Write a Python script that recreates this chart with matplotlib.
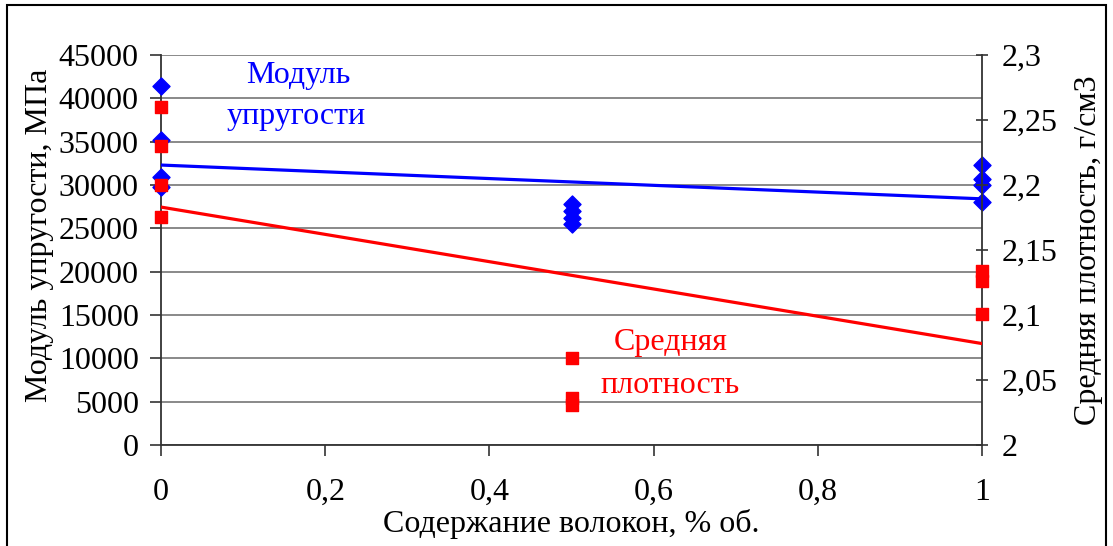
import matplotlib.pyplot as plt
from matplotlib.patches import Rectangle
from matplotlib.ticker import FuncFormatter

plt.rcParams['font.family'] = ['Liberation Serif', 'DejaVu Serif']

# fibre content, % vol
x_mod = [0, 0, 0, 0, 0.5, 0.5, 0.5, 0.5, 1, 1, 1, 1]
# modulus of elasticity, MPa
modulus = [41400, 35200, 30900, 29800, 27800, 27000, 26200, 25500, 32300, 30700, 30000, 28000]

x_dens = [0, 0, 0, 0, 0.5, 0.5, 0.5, 1, 1, 1]
# average density, g/cm3
density = [2.26, 2.23, 2.2, 2.175, 2.067, 2.036, 2.031, 2.134, 2.126, 2.101]

# trend lines (end points)
trend_x = [0, 1]
trend_mod = [32300, 28400]
trend_dens = [2.183, 2.078]

fig = plt.figure(figsize=(11.13, 5.46), dpi=100)
ax = fig.add_axes([0.1447, 0.185, 0.7377, 0.7143])
ax2 = ax.twinx()

fs = 23
comma = FuncFormatter(lambda v, p: ('%g' % v).replace('.', ','))

ax.set_xlim(0, 1)
ax.set_ylim(0, 45000)
ax.set_yticks(range(0, 45001, 5000))
ax.set_xticks([0, 0.2, 0.4, 0.6, 0.8, 1])
ax.xaxis.set_major_formatter(comma)
ax.yaxis.grid(True, color='#808080', linewidth=1.3)
ax.set_axisbelow(True)
ax.tick_params(axis='both', labelsize=fs, length=8, width=1.2, direction='out', pad=8,
               color='#333333')
ax.tick_params(axis='x', pad=16)

ax2.set_ylim(2, 2.3)
ax2.set_yticks([2, 2.05, 2.1, 2.15, 2.2, 2.25, 2.3])
ax2.yaxis.set_major_formatter(comma)
ax2.tick_params(axis='y', labelsize=fs, length=8, width=1.2, direction='inout', pad=10,
                color='#333333')

for a in (ax, ax2):
    for s in a.spines.values():
        s.set_visible(False)
for s in (ax.spines['left'], ax.spines['bottom'], ax2.spines['right']):
    s.set_visible(True)
    s.set_linewidth(1.3)
    s.set_color('#333333')

ax.plot(trend_x, trend_mod, color='#0000FF', linewidth=2.3, zorder=3)
ax.scatter(x_mod, modulus, marker='D', s=75, color='#0000FF', zorder=4, clip_on=False)

ax2.plot(trend_x, trend_dens, color='#FF0000', linewidth=2.3, zorder=3)
ax2.scatter(x_dens, density, marker='s', s=85, color='#FF0000', zorder=5, clip_on=False)

ax.set_xlabel('Содержание волокон, % об.', fontsize=fs)
ax.xaxis.set_label_coords(0.5, -0.165)
ax.set_ylabel('Модуль упругости, МПа', fontsize=fs)
ax.yaxis.set_label_coords(-0.13, 0.538)
ax2.set_ylabel('Средняя плотность, г/см3', fontsize=fs, labelpad=12)

ax.text(0.167, 0.948, 'Модуль', color='#0000FF', fontsize=fs, ha='center', va='center', transform=ax.transAxes)
ax.text(0.164, 0.843, 'упругости', color='#0000FF', fontsize=fs, ha='center', va='center', transform=ax.transAxes)
ax.text(0.621, 0.262, 'Средняя', color='#FF0000', fontsize=fs, ha='center', va='center', transform=ax.transAxes)
ax.text(0.62, 0.152, 'плотность', color='#FF0000', fontsize=fs, ha='center', va='center', transform=ax.transAxes)

fig.patches.append(Rectangle((0.006, -0.01), 0.988, 1.0, transform=fig.transFigure,
                             fill=False, edgecolor='black', linewidth=1.5))

fig.savefig('out.png', dpi=100)
